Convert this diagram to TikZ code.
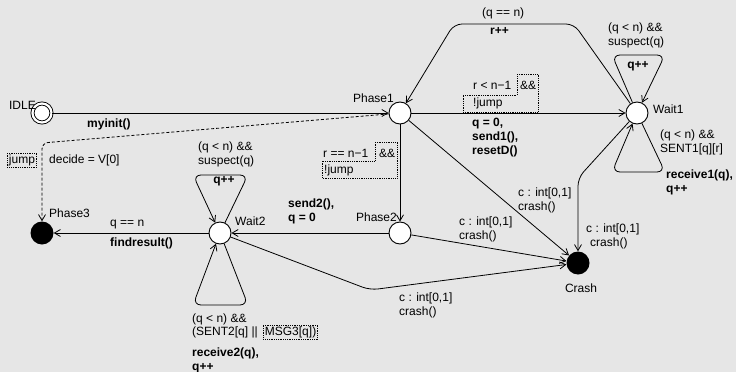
\documentclass[tikz,border=0pt]{standalone}
\usepackage{fontspec}
\setmainfont{Liberation Sans}
\usetikzlibrary{positioning, arrows.meta}

\definecolor{canvas}{RGB}{230,230,230}

\tikzstyle{loc} = [
    circle,
    minimum size=22pt,
    inner sep=0pt,
    line width=0.9pt,
    draw=black,
    fill=white
]
\tikzstyle{initloc} = [
    loc,
    minimum size=19pt,
    double=white,
    double distance=2.2pt
]
\tikzstyle{endloc} = [
    circle,
    minimum size=23pt,
    inner sep=0pt,
    fill=black
]
\tikzstyle{locname} = [inner sep=0pt]
\tikzstyle{guard} = [inner sep=0pt, align=left]
\tikzstyle{update} = [guard, font=\fontsize{12}{14}\selectfont\bfseries]
\tikzstyle{dotbox} = [densely dotted, line width=0.8pt]
\tikzstyle{edge} = [line width=0.8pt, ->, >={Straight Barb[length=6pt,width=7pt]}]

\begin{document}
\begin{tikzpicture}[x=1pt, y=-1pt, on grid, font=\fontsize{12}{14}\selectfont]

\fill [canvas] (0,0) rectangle (736,372);
\useasboundingbox (0,0) rectangle (736,372);

% locations
\node (phase1) [loc] at (400,113) {};
\node (wait1) [loc, right=237pt of phase1] {};
\node (idle) [initloc, left=358pt of phase1] {};
\node (phase2) [loc, below=120pt of phase1] {};
\node (wait2) [loc, left=180pt of phase2] {};
\node (phase3) [endloc, left=178pt of wait2] {};
\node (crash) [endloc, below right=30pt and 178pt of phase2] {};

\node (idlename) [locname, anchor=base east] at (36,109) {IDLE};
\node (phase1name) [locname, anchor=base east] at (394,102) {Phase1};
\node (wait1name) [locname, anchor=base west] at (653,113) {Wait1};
\node (phase2name) [locname, anchor=base east] at (397,221) {Phase2};
\node (wait2name) [locname, anchor=base west] at (235,225) {Wait2};
\node (phase3name) [locname, anchor=base west] at (49,217) {Phase3};
\node (crashname) [locname, anchor=base] at (581,292) {Crash};

% bends
\coordinate (jumpbend) at (42,143);
\coordinate (topright) at (574,24);
\coordinate (topleft) at (454,24);
\coordinate (w1bend) at (578,178);
\coordinate (w2bend) at (370,290);

% transitions
\draw [edge] (idle) -- (phase1);
\draw [edge] (phase1) -- (wait1);
\draw [edge] (phase1) -- (phase2);
\draw [edge] (phase1) -- (crash);
\draw [edge] (phase2) -- (wait2);
\draw [edge] (phase2) -- (crash);
\draw [edge] (wait2) -- (phase3);
\draw [edge, dash pattern=on 3pt off 2pt, rounded corners=6pt]
    (phase1) -- (jumpbend) -- (phase3);
\draw [edge, rounded corners=8pt] (wait1) -- (topright) -- (topleft) -- (phase1);
\draw [edge, rounded corners=8pt] (wait1) -- (w1bend) -- (crash);
\draw [edge, rounded corners=8pt] (wait2) -- (w2bend) -- (crash);

% self loops
\draw [edge, rounded corners=8pt] (wait1) -- (612,55) -- (665,55) -- (wait1);
\draw [edge, rounded corners=8pt] (wait1) -- (665,172) -- (612,172) -- (wait1);
\draw [edge, rounded corners=8pt] (wait2) -- (248,175) -- (193,175) -- (wait2);
\draw [edge, rounded corners=8pt] (wait2) -- (248,305) -- (193,305) -- (wait2);

% labels
\node (initupd) [update, anchor=west] at (87,124) {myinit()};

\node (jumpgrd) [guard, draw, dotbox, inner sep=1.5pt] at (22,160) {jump};
\node (jumpupd) [guard, anchor=west] at (49,160) {decide = V[0]};

\node (backgrd) [guard, anchor=west] at (482,13) {(q == n)};
\node (backupd) [update, anchor=west] at (490,31) {r++};

\node (w1topgrd) [guard, anchor=west] at (608,35) {(q < n) \&\&\\suspect(q)};
\node (w1topupd) [update] at (638,66) {q++};
\node (w1botgrd) [guard, anchor=west] at (660,142) {(q < n) \&\&\\SENT1[q][r]};
\node (w1botupd) [update, anchor=west] at (666,182) {receive1(q),\\q++};

\node (p1w1grda) [guard, anchor=west] at (473,85) {r < n−1};
\node (p1w1grdb) [guard, anchor=west] at (520,85) {\&\&};
\node (p1w1grdc) [guard, anchor=west] at (473,103) {!jump};
\draw [dotbox] (517,74) -- (538,74) -- (538,112) -- (463,112) -- (463,95) -- (517,95) -- cycle;
\node (p1w1upd) [update, anchor=west] at (472,138) {q = 0,\\send1(),\\resetD()};

\node (p1p2grda) [guard, anchor=west] at (323,153) {r == n−1};
\node (p1p2grdb) [guard, anchor=west] at (379,153) {\&\&};
\node (p1p2grdc) [guard, anchor=west] at (324,170) {!jump};
\draw [dotbox] (375,142) -- (397,142) -- (397,178) -- (322,178) -- (322,161) -- (375,161) -- cycle;

\node (p1crash) [guard, anchor=west] at (518,200) {c : int[0,1]\\crash()};
\node (p2crash) [guard, anchor=west] at (459,229) {c : int[0,1]\\crash()};
\node (w1crash) [guard, anchor=west] at (586,236) {c : int[0,1]\\\hspace*{4pt}crash()};
\node (w2crash) [guard, anchor=west] at (399,305) {c : int[0,1]\\crash()};

\node (p2w2upd) [update, anchor=west] at (288,211) {send2(),\\q = 0};

\node (w2p3grd) [guard, anchor=base west] at (110,226) {q == n};
\node (w2p3upd) [update, anchor=west] at (110,243) {findresult()};

\node (w2topgrd) [guard, anchor=west] at (198,154) {(q < n) \&\&\\suspect(q)};
\node (w2topupd) [update] at (224,181) {q++};
\node (w2botgrda) [guard, anchor=west] at (192,319) {(q < n) \&\&};
\node (w2botgrdb) [guard, anchor=west] at (192,332) {(SENT2[q] ||};
\node (w2botgrdc) [guard, draw, dotbox, inner sep=1.5pt, anchor=west] at (263,332) {MSG3[q])};
\node (w2botupd) [update, anchor=west] at (192,360) {receive2(q),\\q++};

\end{tikzpicture}
\end{document}
